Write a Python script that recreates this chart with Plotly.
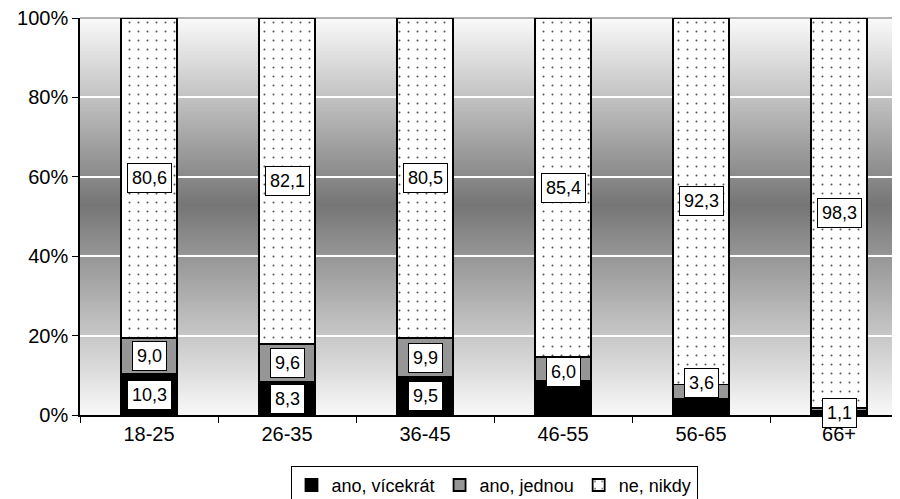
import plotly.graph_objects as go

categories = ["18-25", "26-35", "36-45", "46-55", "56-65", "66+"]
ano_vicekrat = [10.3, 8.3, 9.5, 8.6, 4.1, 1.1]
ano_jednou = [9.0, 9.6, 9.9, 6.0, 3.6, 0.6]
ne_nikdy = [80.6, 82.1, 80.5, 85.4, 92.3, 98.3]

labels_vicekrat = ["10,3", "8,3", "9,5", None, None, "1,1"]
labels_jednou = ["9,0", "9,6", "9,9", "6,0", "3,6", None]
labels_nikdy = ["80,6", "82,1", "80,5", "85,4", "92,3", "98,3"]

y_tick_values = [0, 20, 40, 60, 80, 100]
y_tick_labels = ["0%", "20%", "40%", "60%", "80%", "100%"]

series_names = ["ano, vícekrát", "ano, jednou", "ne, nikdy"]

FONT = "Liberation Sans, Arial, sans-serif"

fig = go.Figure()
line = dict(color="black", width=1.8)
fig.add_trace(go.Bar(x=categories, y=ano_vicekrat, name=series_names[0],
                     marker=dict(color="black", line=line), width=0.41))
fig.add_trace(go.Bar(x=categories, y=ano_jednou, name=series_names[1],
                     marker=dict(color="#969696", line=line), width=0.41))
fig.add_trace(go.Bar(x=categories, y=ne_nikdy, name=series_names[2],
                     marker=dict(color="white", line=line,
                                 pattern=dict(shape=".", fgcolor="#555555", bgcolor="white",
                                              size=9, solidity=0.04)),
                     width=0.41))

# gradient background bands
def shade(t):
    c = 0.53
    if t >= c:
        v = 118 + (t - c) / (1 - c) * (250 - 118)
    else:
        v = 118 + (c - t) / c * (248 - 118)
    v = int(round(v))
    return f"rgb({v},{v},{v})"

N = 120
shapes = []
for i in range(N):
    t0 = i / N
    t1 = (i + 1) / N
    shapes.append(dict(type="rect", xref="x domain", yref="y domain",
                       x0=0, x1=1, y0=t0, y1=t1 + 0.002, layer="below",
                       line=dict(width=0), fillcolor=shade((t0 + t1) / 2)))
shapes.append(dict(type="line", xref="x domain", yref="y domain", x0=0, x1=1,
                   y0=1, y1=1, line=dict(color="#9a9a9a", width=1.5), layer="below"))

annotations = []
def add_labels(base, vals, labs, shifts=None):
    for i, (b, v, lab) in enumerate(zip(base, vals, labs)):
        if lab is None:
            continue
        annotations.append(dict(x=categories[i], y=b + v / 2, text=lab, showarrow=False,
                                font=dict(family=FONT, size=18, color="black"),
                                bgcolor="white", bordercolor="black", borderwidth=1,
                                borderpad=4, yshift=(shifts[i] if shifts else 0)))

zeros = [0] * len(categories)
add_labels(zeros, ano_vicekrat, labels_vicekrat)
base2 = [a for a in ano_vicekrat]
add_labels(base2, ano_jednou, labels_jednou, shifts=[0, 0, 0, -3, 9, 0])
base3 = [a + b for a, b in zip(ano_vicekrat, ano_jednou)]
add_labels(base3, ne_nikdy, labels_nikdy)

fig.update_layout(
    template="none",
    barmode="stack",
    width=900, height=499,
    margin=dict(l=72, r=0, t=10, b=92),
    paper_bgcolor="white",
    plot_bgcolor="white",
    shapes=shapes,
    annotations=annotations,
    font=dict(family=FONT, size=18, color="black"),
    showlegend=True,
    legend=dict(orientation="h", x=0.5, xanchor="center", y=-0.128, yanchor="top",
                bordercolor="black", borderwidth=1, bgcolor="white",
                font=dict(family=FONT, size=18, color="black"),
                itemwidth=30, traceorder="normal", tracegroupgap=0),
    bargap=0.59,
    xaxis=dict(type="category", tickson="boundaries", ticks="outside", ticklen=6,
               tickcolor="black", showline=True, linecolor="black", linewidth=1.5,
               showgrid=False, zeroline=False,
               tickfont=dict(family=FONT, size=20, color="black")),
    yaxis=dict(range=[0, 100], tickmode="array", tickvals=y_tick_values,
               ticktext=y_tick_labels, ticks="outside", ticklen=6, tickcolor="black",
               showline=True, linecolor="black", linewidth=1.5, showgrid=True,
               gridcolor="white", gridwidth=1.5, zeroline=False,
               ticklabeloverflow="allow",
               tickfont=dict(family=FONT, size=20, color="black")),
)

fig.write_html("out.html")
